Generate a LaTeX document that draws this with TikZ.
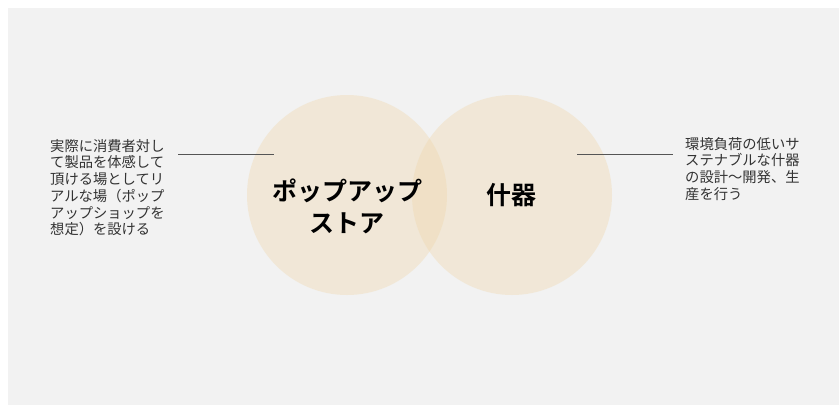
\documentclass[tikz,border=0pt]{standalone}
\usepackage{fontspec}
\setmainfont{Liberation Sans}
\newfontfamily\jp{Noto Sans CJK JP}
\newfontfamily\jpb{Noto Sans CJK JP Bold}
\definecolor{panel}{HTML}{F2F2F2}
\definecolor{beige}{RGB}{240,214,168}
\definecolor{txt}{HTML}{333333}
\definecolor{ln}{HTML}{555555}
\tikzset{
  circ/.style={circle, fill=beige, fill opacity=0.36, draw=none, minimum size=200pt, inner sep=0pt},
  desc/.style={text=txt, font=\jp\fontsize{14.3}{16.7}\selectfont, align=left, inner sep=0pt, anchor=north west},
  title/.style={text=black, font=\jpb\fontsize{25}{32}\selectfont, align=center, inner sep=0pt},
  conn/.style={draw=ln, line width=0.9pt}
}
\begin{document}
\begin{tikzpicture}[x=1pt,y=-1pt]
\useasboundingbox (0,0) rectangle (839,405);
\fill[white] (0,0) rectangle (839,405);
\fill[panel] (8,8) rectangle (839,405);
\node[circ] (cl) at (347,195) {};
\node[circ] (cr) at (512,195) {};
\node[title] (tl) at (347,206) {ポップアップ\\ストア};
\node[title] (tr) at (511,195) {什器};
\node[desc] (dl) at (50,139) {実際に消費者対し\\て製品を体感して\\頂ける場としてリ\\アルな場（ポップ\\アップショップを\\想定）を設ける};
\node[desc] (dr) at (685,137) {環境負荷の低いサ\\ステナブルな什器\\の設計～開発、生\\産を行う};
\coordinate (la) at (178,154.5);
\coordinate (lb) at (274,154.5);
\coordinate (ra) at (577,154.5);
\coordinate (rb) at (673,154.5);
\draw[conn] (la) -- (lb);
\draw[conn] (ra) -- (rb);
\end{tikzpicture}
\end{document}
